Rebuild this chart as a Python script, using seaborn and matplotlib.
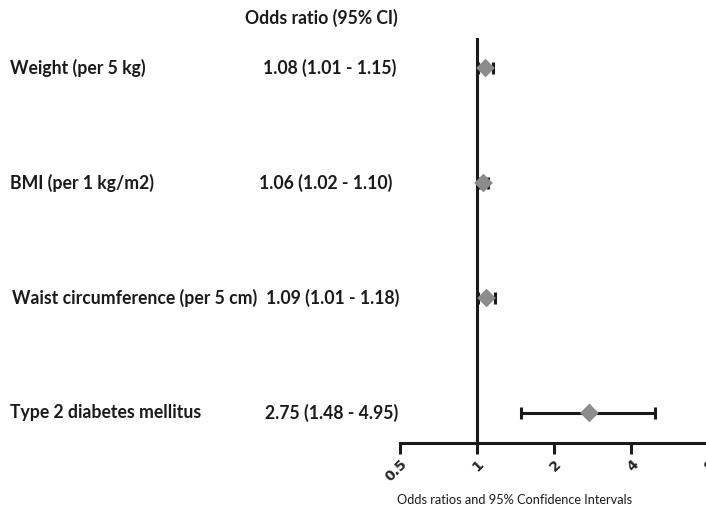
import matplotlib
matplotlib.use("Agg")
import matplotlib.pyplot as plt
import matplotlib.transforms as mtransforms
import seaborn as sns
import pandas as pd

# ---- data ----
labels = ["Weight (per 5 kg)", "BMI (per 1 kg/m2)", "Waist circumference (per 5 cm)", "Type 2 diabetes mellitus"]
odds = [1.08, 1.06, 1.09, 2.75]
lower = [1.01, 1.02, 1.01, 1.48]
upper = [1.15, 1.10, 1.18, 4.95]
ci_text = ["1.08 (1.01 - 1.15)", "1.06 (1.02 - 1.10)", "1.09 (1.01 - 1.18)", "2.75 (1.48 - 4.95)"]
xticks = [0.5, 1, 2, 4, 8]
xtick_labels = ["0.5", "1", "2", "4", "8"]

df = pd.DataFrame({"label": labels, "odds": odds, "lower": lower, "upper": upper,
                   "row": list(range(len(labels)))})

sns.set_theme(style="white")
plt.rcParams["font.family"] = ["Lato", "DejaVu Sans"]

fig = plt.figure(figsize=(7.06, 5.17), dpi=100)
ax = fig.add_axes([400 / 706, 74 / 517, 308 / 706, 405 / 517])

# error bars
ax.errorbar(df["odds"], df["row"],
            xerr=[df["odds"] - df["lower"], df["upper"] - df["odds"]],
            fmt="none", ecolor="#1a1a1a", elinewidth=2.2, capsize=4, capthick=2.2, zorder=2)
sns.scatterplot(data=df, x="odds", y="row", marker="D", s=90, color="#8c8c8c",
                edgecolor="none", ax=ax, zorder=3, legend=False)

ax.axvline(1, color="#1a1a1a", lw=2.2, zorder=1)

ax.set_xscale("log", base=2)
ax.set_xlim(0.5, 8)
ax.set_ylim(3.261, -0.261)
ax.set_xticks(xticks)
ax.set_xticklabels(xtick_labels, rotation=45, ha="right", rotation_mode="anchor",
                   fontsize=10, fontweight="bold", family="DejaVu Sans")
ax.minorticks_off()
ax.set_yticks([])
ax.set_ylabel("")
ax.set_xlabel("")
for s in ["top", "right", "left"]:
    ax.spines[s].set_visible(False)
ax.spines["bottom"].set_linewidth(2.2)
ax.spines["bottom"].set_color("#1a1a1a")
ax.tick_params(axis="x", direction="out", length=8, width=2.2, color="#1a1a1a", pad=2, bottom=True)
ax.patch.set_alpha(0)

trans = mtransforms.blended_transform_factory(fig.transFigure, ax.transData)
label_x = [10, 10, 12, 10]
ci_x = [330, 326, 333, 332]
for i, (lab, ct) in enumerate(zip(labels, ci_text)):
    ax.text(label_x[i] / 706, i, lab, transform=trans, ha="left", va="center",
            fontsize=12.7, fontweight="bold", color="#1a1a1a", clip_on=False)
    ax.text(ci_x[i] / 706, i, ct, transform=trans, ha="center", va="center",
            fontsize=12.7, fontweight="bold", color="#1a1a1a", clip_on=False)

fig.text(321 / 706, 1 - 18 / 517, "Odds ratio (95% CI)", ha="center", va="center",
         fontsize=12.7, fontweight="bold", color="#1a1a1a")
fig.text(515 / 706, 1 - 500 / 517, "Odds ratios and 95% Confidence Intervals", ha="center",
         va="center", fontsize=9.2, color="#1a1a1a")

fig.savefig("out.png", dpi=100)
